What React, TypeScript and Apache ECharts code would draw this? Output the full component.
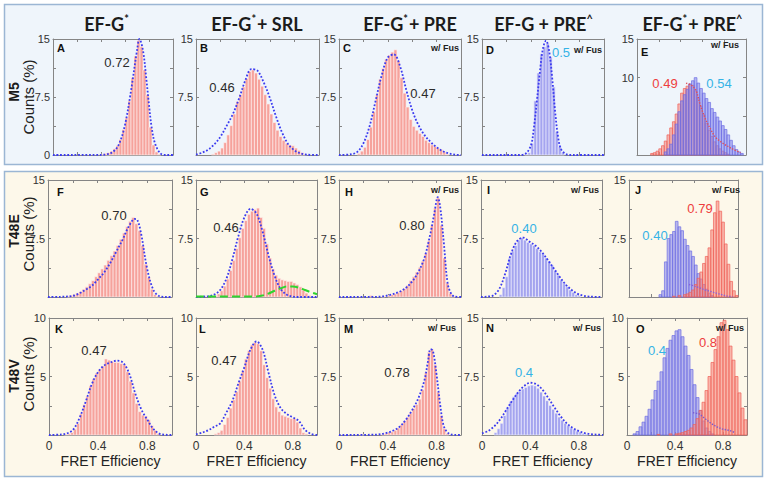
import React, { useEffect, useRef } from 'react';
import * as echarts from 'echarts';

const FONT = "'Liberation Sans', Arial, sans-serif";
const TITLE_FONT = "Lato, 'Open Sans', sans-serif";
const BIN_W = 0.025;
const BIN_CENTERS = Array.from({ length: 40 }, (_, k) => +(0.0125 + k * BIN_W).toFixed(4));

// ---- histogram values (40 bins of width 0.025 on FRET efficiency 0..1), Counts (%) ----
const HIST_A = [0,0,0,0,0,0,0,0,0,0, 0,0,0,0,0,0,0.1,0.2,0.3,0.5, 0.8,1.2,2.0,3.3,4.8,7.0,10.0,12.8,14.8,14.0, 11.0,7.8,3.6,1.3,0.4,0.1,0,0,0,0];
const HIST_B = [0,0,0,0,0,0.1,0.3,0.5,0.9,1.6, 2.6,3.8,5.3,6.9,7.8,8.8,9.9,10.8,11.0,10.6, 9.8,8.9,7.8,6.6,5.3,4.2,3.2,2.4,1.9,1.5, 1.3,1.2,0.9,0.6,0.3,0.1,0,0,0,0];
const HIST_C = [0,0,0,0,0,0,0.2,0.5,1.0,2.0, 3.6,5.6,7.8,9.8,11.2,12.4,12.9,13.3,13.6,12.2, 10.0,8.0,6.2,4.6,3.7,3.2,2.8,2.4,1.9,1.6, 1.3,1.1,0.9,0.7,0.4,0.1,0,0,0,0];
const HIST_D = [0,0,0,0,0,0,0,0,0,0, 0,0,0,0,0.1,0.3,1.5,7.0,10.6,13.1, 14.0,14.4,12.7,8.8,3.0,1.1,0.3,0,0,0, 0,0,0,0,0,0,0,0,0,0];
const HIST_E_RED = [0,0,0,0,0,0.2,0.3,0.5,0.8,1.2, 1.8,2.6,3.5,4.3,5.3,6.6,8.0,8.6,8.9,9.1, 9.0,8.3,7.4,6.3,5.2,4.1,3.2,2.4,1.7,1.2, 0.8,0.5,0.3,0.1,0,0,0,0,0,0];
const HIST_E_BLUE = [0,0,0,0,0,0,0,0,0,0, 0.4,0.8,1.4,2.6,4.0,5.6,7.0,7.8,8.5,9.2, 9.6,10.0,9.3,8.6,8.0,7.3,6.8,6.0,5.5,4.9, 4.4,3.8,3.3,2.6,1.9,1.2,0.7,0.4,0.2,0];
const HIST_F = [0,0,0,0,0,0,0.1,0.2,0.3,0.5, 0.7,1.0,1.3,1.7,2.1,2.6,3.1,3.6,4.1,4.7, 5.3,5.9,6.6,7.4,8.2,9.0,9.7,10.2,9.4,8.5, 6.6,4.2,2.5,1.0,0.3,0.1,0,0,0,0];
const HIST_G = [0,0,0,0,0,0.1,0.2,0.4,0.8,1.4, 2.3,3.4,4.7,6.2,7.6,8.8,9.8,10.6,11.0,11.2, 11.4,10.2,8.8,6.8,5.0,3.6,2.8,2.4,2.2,2.1, 2.0,2.0,1.8,1.6,1.3,0.9,0.5,0.2,0,0];
const HIST_H = [0,0,0,0,0,0,0,0,0,0, 0.2,0,0,0,0.1,0,0.2,0.3,0.4,0.6, 0.8,1.1,1.5,2.1,2.6,3.2,3.8,4.6,5.6,7.2, 9.2,11.4,12.7,9.2,5.0,1.8,0.5,0.1,0,0];
const HIST_I = [0,0,0,0,0,0,0.3,1.2,2.6,5.0, 5.9,6.6,7.3,7.6,7.3,7.0,6.8,6.6,6.2,5.8, 5.5,5.0,4.6,4.1,3.4,2.8,2.2,1.7,1.3,0.9, 0.6,0.3,0.15,0,0,0,0,0,0,0];
const HIST_J_BLUE = [0,0,0,0,0,0,0,0,0,0, 0,0.3,0.8,4.5,7.5,8.0,8.4,9.7,9.0,8.5, 7.4,6.6,5.9,5.2,4.1,3.0,2.3,1.6,1.0,0.5, 0.2,0,0,0,0,0,0,0,0,0];
const HIST_J_RED = [0,0,0,0,0,0,0,0,0,0, 0,0,0,0,0,0,0.1,0,0.2,0, 0.3,0.4,0.6,0.9,1.6,2.4,3.2,4.3,5.2,6.3, 8.6,10.8,12.3,11.0,9.6,6.8,4.2,2.0,0.8,0.2];
const HIST_K = [0,0,0,0,0,0.05,0.1,0.2,0.5,1.0, 1.8,2.6,3.3,4.2,4.8,5.3,5.6,5.9,6.5,6.4, 6.3,6.2,6.2,6.1,6.0,5.4,4.6,3.6,2.7,2.0, 1.7,1.6,1.3,0.8,0.4,0.1,0,0,0,0];
const HIST_L = [0,0,0,0,0,0,0.1,0.2,0.4,0.9, 1.5,2.3,3.0,3.7,4.6,5.5,6.5,7.2,7.7,7.9, 7.8,7.2,6.0,4.9,4.0,3.1,2.4,2.0,1.7,1.6, 1.5,1.4,1.4,1.1,0.6,0.2,0.1,0,0,0];
const HIST_M = [0,0,0,0,0,0,0,0.1,0,0, 0,0,0,0,0.1,0.2,0.3,0.4,0.6,0.9, 1.3,1.8,2.3,2.8,3.4,3.9,4.6,5.8,8.0,10.6, 11.0,9.0,5.5,2.5,0.8,0.2,0,0,0,0];
const HIST_N = [0,0,0,0,0.3,0.8,1.5,2.5,3.5,4.3, 4.9,5.3,5.6,5.9,6.1,6.3,6.4,6.3,6.0,5.5, 5.0,4.4,3.8,3.3,2.8,2.3,1.9,1.5,1.2,0.9, 0.7,0.5,0.3,0.2,0.1,0,0,0,0,0];
const HIST_O_BLUE = [0,0,0.1,0.3,0.7,1.1,1.6,2.2,3.0,3.8, 4.6,5.4,6.6,7.4,8.1,8.5,8.9,9.0,8.4,7.6, 6.8,5.6,4.3,3.2,2.1,1.2,0.6,0.3,0.1,0, 0,0,0,0,0,0,0,0,0,0];
const HIST_O_RED = [0,0,0,0,0,0,0,0,0,0, 0.05,0,0,0,0.1,0,0.1,0.15,0.2,0.3, 0.4,0.6,0.9,1.4,2.1,2.8,3.8,5.0,6.2,7.3, 8.4,9.6,9.8,9.0,7.6,6.4,5.0,3.6,2.3,1.3];

// ---- fitted curves, [FRET efficiency, Counts %] ----
const FIT_A = [[0,0],[0.4,0.02],[0.45,0.1],[0.5,0.4],[0.55,1.4],[0.6,3.9],[0.65,8.3],[0.7,13.5],[0.72,15.0],[0.75,13.5],[0.78,9.5],[0.8,6.5],[0.82,3.8],[0.85,1.5],[0.9,0.15],[0.95,0],[1,0]];
const FIT_B = [[0,0.05],[0.05,0.3],[0.1,0.7],[0.15,1.4],[0.2,2.4],[0.25,3.8],[0.3,5.3],[0.35,7.3],[0.4,9.6],[0.45,11.1],[0.5,10.9],[0.55,9.4],[0.6,7.4],[0.65,5.0],[0.7,2.9],[0.75,1.4],[0.8,0.6],[0.85,0.2],[0.9,0.05],[1,0]];
const FIT_C = [[0,0],[0.1,0.1],[0.15,0.4],[0.2,1.5],[0.25,3.7],[0.3,7.0],[0.35,10.3],[0.4,12.6],[0.45,13.0],[0.5,11.5],[0.55,8.5],[0.6,5.8],[0.65,3.9],[0.7,2.6],[0.75,1.7],[0.8,1.0],[0.85,0.5],[0.9,0.2],[0.95,0.05],[1,0]];
const FIT_D = [[0,0],[0.3,0],[0.35,0.1],[0.4,1.2],[0.425,3.5],[0.45,7.0],[0.475,10.8],[0.5,13.8],[0.525,14.8],[0.55,13.5],[0.575,10.0],[0.6,5.5],[0.625,2.2],[0.65,0.7],[0.7,0.05],[0.75,0],[1,0]];
const FIT_E_RED = [[0.45,9.3],[0.5,9.0],[0.54,8.4],[0.58,6.5],[0.63,4.6],[0.68,3.2],[0.72,2.3],[0.78,1.6],[0.86,0.9],[0.95,0.3]];
const FIT_F = [[0,0],[0.1,0.03],[0.2,0.15],[0.25,0.45],[0.3,0.9],[0.35,1.4],[0.4,2.2],[0.45,3.1],[0.5,4.3],[0.55,5.8],[0.6,7.3],[0.65,9.0],[0.7,10.0],[0.72,9.9],[0.75,8.2],[0.8,3.6],[0.85,0.9],[0.9,0.1],[0.95,0],[1,0]];
const FIT_G = [[0,0],[0.1,0.1],[0.15,0.3],[0.2,0.9],[0.25,2.3],[0.3,4.8],[0.35,7.8],[0.4,10.2],[0.45,11.3],[0.5,10.7],[0.55,8.4],[0.6,5.3],[0.65,2.7],[0.7,1.0],[0.75,0.3],[0.8,0.05],[0.85,0],[1,0]];
const FIT_G_GREEN = [[0,0.05],[0.45,0.05],[0.5,0.08],[0.55,0.2],[0.6,0.45],[0.65,0.8],[0.7,1.1],[0.75,1.35],[0.8,1.35],[0.85,1.2],[0.9,0.9],[0.95,0.6],[1,0.35]];
const FIT_H = [[0,0],[0.3,0.02],[0.4,0.2],[0.5,0.7],[0.55,1.2],[0.6,2.0],[0.65,3.2],[0.7,5.0],[0.75,8.2],[0.78,10.6],[0.81,12.8],[0.83,11.5],[0.86,6.8],[0.89,1.8],[0.92,0.4],[0.95,0.05],[1,0]];
const FIT_I = [[0,0],[0.05,0.05],[0.1,0.2],[0.15,1.0],[0.2,3.0],[0.25,5.6],[0.3,7.2],[0.35,7.6],[0.4,7.1],[0.45,6.6],[0.5,5.8],[0.55,4.8],[0.6,3.7],[0.65,2.6],[0.7,1.6],[0.75,0.9],[0.8,0.4],[0.85,0.15],[0.9,0.05],[1,0]];
const FIT_J_TAIL = [[0.55,1.6],[0.6,1.4],[0.65,1.15],[0.7,0.9],[0.75,0.7],[0.8,0.5],[0.85,0.3],[0.9,0.12],[0.95,0.03]];
const FIT_K = [[0,0],[0.1,0.05],[0.15,0.15],[0.2,0.5],[0.25,1.5],[0.3,2.9],[0.35,4.4],[0.4,5.4],[0.45,5.95],[0.5,6.2],[0.55,6.35],[0.6,6.2],[0.65,5.3],[0.7,3.6],[0.75,2.2],[0.8,1.3],[0.85,0.5],[0.9,0.1],[0.95,0.02],[1,0]];
const FIT_L = [[0,0.05],[0.05,0.2],[0.1,0.4],[0.15,0.7],[0.2,1.0],[0.25,1.9],[0.3,2.9],[0.35,4.4],[0.4,5.8],[0.45,7.3],[0.5,8.0],[0.55,7.3],[0.6,5.3],[0.65,3.4],[0.7,2.3],[0.75,1.8],[0.8,1.5],[0.85,1.2],[0.9,0.45],[0.95,0.1],[1,0]];
const FIT_M = [[0,0],[0.3,0.05],[0.4,0.3],[0.45,0.6],[0.5,1.1],[0.55,2.0],[0.6,3.2],[0.65,4.7],[0.7,7.0],[0.73,9.5],[0.75,11.0],[0.77,10.8],[0.8,7.7],[0.83,3.8],[0.86,1.1],[0.9,0.2],[0.95,0.02],[1,0]];
const FIT_N = [[0,0.2],[0.05,0.5],[0.1,1.1],[0.15,2.0],[0.2,3.2],[0.25,4.4],[0.3,5.5],[0.35,6.3],[0.4,6.7],[0.45,6.5],[0.5,5.8],[0.55,4.7],[0.6,3.5],[0.65,2.4],[0.7,1.5],[0.75,0.9],[0.8,0.5],[0.85,0.25],[0.9,0.1],[0.95,0.05],[1,0.02]];
const FIT_O_TAIL = [[0.55,1.9],[0.6,1.8],[0.65,1.4],[0.7,1.0],[0.75,0.7],[0.8,0.5],[0.85,0.4],[0.9,0.2]];

// ---- labels ----
const ROW_NAMES = ['M5', 'T48E', 'T48V'];
const Y_TITLE = 'Counts (%)';
const X_TITLE = 'FRET Efficiency';
const X_TICK_LABELS = [0, 0.4, 0.8];
// column titles: [text, superscript, text, superscript, centre x]
const TITLES: [string, string, string, string, number][] = [
  ['EF-G', '*', '', '', 107],
  ['EF-G', '*', '+ SRL', '', 257],
  ['EF-G', '*', '+ PRE', '', 410],
  ['EF-G + PRE', '^', '', '', 544],
  ['EF-G', '*', '+ PRE', '^', 693],
];

const C_DARK = '#2b2b2b';
const C_CYAN = '#35b3e6';
const C_RED = '#ee3d3d';
const FIT_BLUE = '#3b3bf0';

const BAR_STYLES: Record<string, any> = {
  red: { fill: '#f6a29c', stroke: '#fff4f2', lineWidth: 0.6 },
  blue: { fill: '#a4a4ef', stroke: '#f4f4ff', lineWidth: 0.6 },
  redO: { fill: 'rgba(246,128,118,0.55)', stroke: '#ef6159', lineWidth: 0.7 },
  blueO: { fill: 'rgba(128,128,236,0.55)', stroke: '#6f6fe4', lineWidth: 0.7 },
};

type Panel = {
  letter: string; left: number; top: number; width: number; height: number;
  yMax: number; yInterval: number; yLabels: number[]; xLabels: boolean;
  bars: [number[], string][];
  lines: [number[][], string, string, number][];
  fus: [number, number] | null; letterPos: [number, number];
  notes: [string, number, number, string][];
};

const PANELS: Panel[] = [
  { letter: 'A', left: 53, top: 39, width: 120, height: 116, yMax: 15, yInterval: 3.75, yLabels: [0, 7.5, 15], xLabels: false,
    bars: [[HIST_A, 'red']], lines: [[FIT_A, FIT_BLUE, 'dotted', 1.8]], fus: null, letterPos: [57, 48], notes: [['0.72', 117, 62, C_DARK]] },
  { letter: 'B', left: 196, top: 39, width: 123, height: 116, yMax: 15, yInterval: 3.75, yLabels: [7.5, 15], xLabels: false,
    bars: [[HIST_B, 'red']], lines: [[FIT_B, FIT_BLUE, 'dotted', 1.8]], fus: null, letterPos: [200, 48], notes: [['0.46', 222, 87, C_DARK]] },
  { letter: 'C', left: 339, top: 39, width: 122, height: 116, yMax: 15, yInterval: 3.75, yLabels: [7.5, 15], xLabels: false,
    bars: [[HIST_C, 'red']], lines: [[FIT_C, FIT_BLUE, 'dotted', 1.8]], fus: [459, 48], letterPos: [343, 48], notes: [['0.47', 423, 93, C_DARK]] },
  { letter: 'D', left: 482, top: 39, width: 122, height: 116, yMax: 15, yInterval: 3.75, yLabels: [7.5, 15], xLabels: false,
    bars: [[HIST_D, 'blue']], lines: [[FIT_D, FIT_BLUE, 'dotted', 1.8]], fus: [602, 50], letterPos: [486, 50], notes: [['0.5', 561, 52, C_CYAN]] },
  { letter: 'E', left: 637, top: 39, width: 109, height: 116, yMax: 15, yInterval: 5, yLabels: [10, 15], xLabels: false,
    bars: [[HIST_E_RED, 'redO'], [HIST_E_BLUE, 'blueO']], lines: [[FIT_E_RED, '#e0505a', 'dotted', 1.4]], fus: [739, 45], letterPos: [641, 52],
    notes: [['0.49', 665, 83, C_RED], ['0.54', 719, 83, C_CYAN]] },
  { letter: 'F', left: 48, top: 180, width: 124, height: 117, yMax: 15, yInterval: 3.75, yLabels: [7.5, 15], xLabels: false,
    bars: [[HIST_F, 'red']], lines: [[FIT_F, FIT_BLUE, 'dotted', 1.8]], fus: null, letterPos: [57, 192], notes: [['0.70', 114, 215, C_DARK]] },
  { letter: 'G', left: 196, top: 180, width: 121, height: 117, yMax: 15, yInterval: 3.75, yLabels: [7.5, 15], xLabels: false,
    bars: [[HIST_G, 'red']], lines: [[FIT_G, FIT_BLUE, 'dotted', 1.8], [FIT_G_GREEN, '#2fd42f', 'dashed', 2]], fus: null, letterPos: [200, 192], notes: [['0.46', 226, 227, C_DARK]] },
  { letter: 'H', left: 339, top: 180, width: 122, height: 117, yMax: 15, yInterval: 3.75, yLabels: [7.5, 15], xLabels: false,
    bars: [[HIST_H, 'red']], lines: [[FIT_H, FIT_BLUE, 'dotted', 1.8]], fus: [459, 190], letterPos: [345, 192], notes: [['0.80', 412, 225, C_DARK]] },
  { letter: 'I', left: 481, top: 180, width: 121, height: 117, yMax: 15, yInterval: 3.75, yLabels: [7.5, 15], xLabels: false,
    bars: [[HIST_I, 'blue']], lines: [[FIT_I, FIT_BLUE, 'dotted', 1.8]], fus: [599, 190], letterPos: [487, 190], notes: [['0.40', 524, 228, C_CYAN]] },
  { letter: 'J', left: 629, top: 180, width: 109, height: 117, yMax: 15, yInterval: 3.75, yLabels: [7.5, 15], xLabels: false,
    bars: [[HIST_J_BLUE, 'blueO'], [HIST_J_RED, 'redO']], lines: [[FIT_J_TAIL, '#8a62d6', 'dotted', 1.4]], fus: [740, 190], letterPos: [635, 190],
    notes: [['0.40', 655, 235, C_CYAN], ['0.79', 700, 208, C_RED]] },
  { letter: 'K', left: 49, top: 318, width: 123, height: 117, yMax: 10, yInterval: 2.5, yLabels: [5, 10], xLabels: true,
    bars: [[HIST_K, 'red']], lines: [[FIT_K, FIT_BLUE, 'dotted', 1.8]], fus: null, letterPos: [55, 329], notes: [['0.47', 94, 350, C_DARK]] },
  { letter: 'L', left: 196, top: 318, width: 121, height: 117, yMax: 10, yInterval: 2.5, yLabels: [5, 10], xLabels: true,
    bars: [[HIST_L, 'red']], lines: [[FIT_L, FIT_BLUE, 'dotted', 1.8]], fus: null, letterPos: [199, 329], notes: [['0.47', 224, 360, C_DARK]] },
  { letter: 'M', left: 339, top: 318, width: 122, height: 117, yMax: 15, yInterval: 3.75, yLabels: [7.5, 15], xLabels: true,
    bars: [[HIST_M, 'red']], lines: [[FIT_M, FIT_BLUE, 'dotted', 1.8]], fus: [456, 328], letterPos: [344, 329], notes: [['0.78', 397, 372, C_DARK]] },
  { letter: 'N', left: 482, top: 318, width: 121, height: 117, yMax: 15, yInterval: 3.75, yLabels: [7.5, 15], xLabels: true,
    bars: [[HIST_N, 'blue']], lines: [[FIT_N, FIT_BLUE, 'dotted', 1.8]], fus: [601, 328], letterPos: [486, 328], notes: [['0.4', 524, 372, C_CYAN]] },
  { letter: 'O', left: 627, top: 318, width: 120, height: 117, yMax: 10, yInterval: 2.5, yLabels: [5, 10], xLabels: true,
    bars: [[HIST_O_BLUE, 'blueO'], [HIST_O_RED, 'redO']], lines: [[FIT_O_TAIL, '#7a5ad0', 'dotted', 1.4]], fus: [744, 328], letterPos: [636, 329],
    notes: [['0.4', 657, 350, C_CYAN], ['0.8', 708, 342, C_RED]] },
];

function buildOption() {
  const grid: any[] = [];
  const xAxis: any[] = [];
  const yAxis: any[] = [];
  const series: any[] = [];
  const graphic: any[] = [];
  const axisLine = { show: true, onZero: false, lineStyle: { color: '#858585', width: 1 } };
  const axisTick = { show: true, inside: true, length: 3, lineStyle: { color: '#858585', width: 1 } };

  PANELS.forEach((p, i) => {
    grid.push({ left: p.left, top: p.top, width: p.width, height: p.height, containLabel: false });
    xAxis.push({
      gridIndex: i, type: 'value', min: 0, max: 1, interval: 0.2, position: 'bottom',
      axisLine, axisTick, splitLine: { show: false },
      axisLabel: {
        show: p.xLabels, margin: 5, fontSize: 12, color: '#333', fontFamily: FONT,
        formatter: (v: number) => {
          const r = Math.round(v * 10) / 10;
          return X_TICK_LABELS.includes(r) ? String(r) : '';
        },
      },
      name: p.xLabels ? X_TITLE : '', nameLocation: 'middle', nameGap: 19,
      nameTextStyle: { fontSize: 14, color: '#222', fontFamily: FONT },
    });
    xAxis.push({
      gridIndex: i, type: 'value', min: 0, max: 1, interval: 0.2, position: 'top',
      axisLine, axisTick, splitLine: { show: false }, axisLabel: { show: false },
    });
    yAxis.push({
      gridIndex: i, type: 'value', min: 0, max: p.yMax, interval: p.yInterval, position: 'left',
      axisLine, axisTick, splitLine: { show: false },
      axisLabel: {
        margin: 3, fontSize: 11, color: '#333', fontFamily: FONT,
        formatter: (v: number) => (p.yLabels.some((l) => Math.abs(l - v) < 1e-6) ? String(v) : ''),
      },
    });
    yAxis.push({
      gridIndex: i, type: 'value', min: 0, max: p.yMax, interval: p.yInterval, position: 'right',
      axisLine, axisTick, splitLine: { show: false }, axisLabel: { show: false },
    });

    p.bars.forEach(([vals, kind], bi) => {
      const st = BAR_STYLES[kind];
      series.push({
        type: 'custom', xAxisIndex: i * 2, yAxisIndex: i * 2, silent: true, z: 2 + bi,
        data: vals.map((v, k) => [BIN_CENTERS[k], v]).filter((d) => d[1] > 0),
        encode: { x: 0, y: 1 },
        renderItem: (_params: any, api: any) => {
          const c = api.value(0);
          const v = api.value(1);
          const p0 = api.coord([c - BIN_W / 2, v]);
          const p1 = api.coord([c + BIN_W / 2, 0]);
          return {
            type: 'rect',
            shape: { x: p0[0], y: p0[1], width: p1[0] - p0[0], height: p1[1] - p0[1] },
            style: { fill: st.fill, stroke: st.stroke, lineWidth: st.lineWidth },
          };
        },
      });
    });
    p.lines.forEach(([data, color, type, width]) => {
      series.push({
        type: 'line', xAxisIndex: i * 2, yAxisIndex: i * 2, data, symbol: 'none', showSymbol: false,
        smooth: 0.35, silent: true, z: 5,
        lineStyle: { color, width, type },
      });
    });

    graphic.push({
      type: 'text', z: 100, style: {
        text: p.letter, x: p.letterPos[0], y: p.letterPos[1], textAlign: 'left', textVerticalAlign: 'middle',
        font: `bold 11px ${FONT}`, fill: '#111',
      },
    });
    if (p.fus) {
      graphic.push({
        type: 'text', z: 100, style: {
          text: 'w/ Fus', x: p.fus[0], y: p.fus[1], textAlign: 'right', textVerticalAlign: 'middle',
          font: `bold 9px ${FONT}`, fill: '#222',
        },
      });
    }
    p.notes.forEach(([t, x, y, c]) => {
      graphic.push({
        type: 'text', z: 100, style: {
          text: t, x, y, textAlign: 'center', textVerticalAlign: 'middle', font: `13px ${FONT}`, fill: c,
        },
      });
    });
  });

  graphic.unshift(
    { type: 'rect', z: -10, shape: { x: 4.5, y: 4.5, width: 758, height: 160 }, style: { fill: '#eff5fb', stroke: '#9bb6d4', lineWidth: 1.5 } },
    { type: 'rect', z: -10, shape: { x: 4.5, y: 171.5, width: 758, height: 305 }, style: { fill: '#fdf8ea', stroke: '#9bb6d4', lineWidth: 1.5 } },
  );

  const rich = {
    m: { fontSize: 18, fontWeight: 'bold', fontFamily: TITLE_FONT, fill: '#1c1c1c', color: '#1c1c1c', lineHeight: 22 },
    s: { fontSize: 11, fontWeight: 'bold', fontFamily: TITLE_FONT, fill: '#1c1c1c', color: '#1c1c1c', verticalAlign: 'top', lineHeight: 22, padding: [0, 1, 10, 0] },
  };
  TITLES.forEach(([a, s1, b, s2, cx]) => {
    let text = `{m|${a}}{s|${s1}}`;
    if (b) text += `{m|${b}}`;
    if (s2) text += `{s|${s2}}`;
    graphic.push({
      type: 'text', z: 100, style: { text, x: cx, y: 24, textAlign: 'center', textVerticalAlign: 'middle', rich },
    });
  });

  const rowCenters: [number, number][] = [[92, 97], [231, 234], [376, 374]];
  ROW_NAMES.forEach((name, r) => {
    graphic.push({
      type: 'text', z: 100, x: 14, y: rowCenters[r][0], rotation: Math.PI / 2,
      style: { text: name, x: 0, y: 0, textAlign: 'center', textVerticalAlign: 'middle', font: `bold 14px ${FONT}`, fill: '#1a1a1a' },
    });
    graphic.push({
      type: 'text', z: 100, x: 28, y: rowCenters[r][1], rotation: Math.PI / 2,
      style: { text: Y_TITLE, x: 0, y: 0, textAlign: 'center', textVerticalAlign: 'middle', font: `15px ${FONT}`, fill: '#222' },
    });
  });

  return { animation: false, backgroundColor: '#ffffff', grid, xAxis, yAxis, series, graphic };
}

export default function App() {
  const ref = useRef<HTMLDivElement>(null);
  useEffect(() => {
    if (!ref.current) return;
    const chart = echarts.init(ref.current, undefined, { renderer: 'svg' });
    chart.setOption(buildOption() as any);
    return () => chart.dispose();
  }, []);
  return <div ref={ref} style={{ position: 'absolute', left: 0, top: 0, width: 768, height: 480 }} />;
}
